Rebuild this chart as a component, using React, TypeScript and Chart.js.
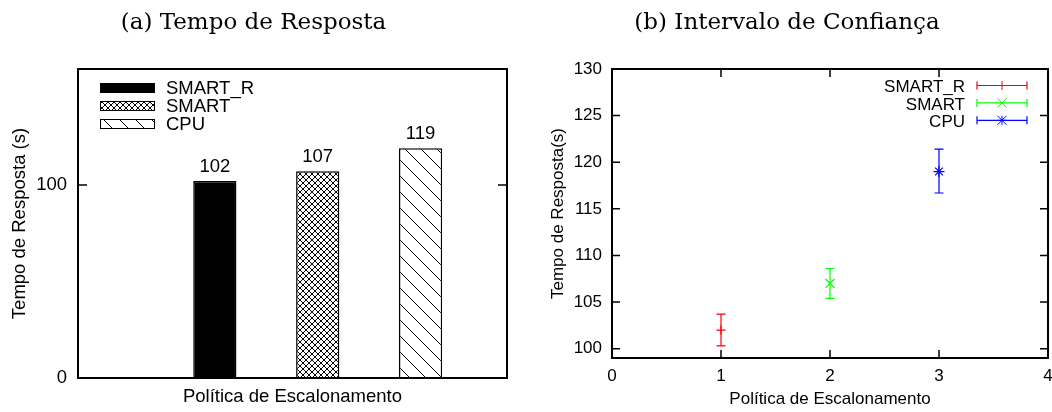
import React, { useEffect, useRef } from 'react';
import { Chart, registerables } from 'chart.js';

Chart.register(...registerables);

// ---------------- data ----------------
const seriesNames = ['SMART_R', 'SMART', 'CPU'];
const policyPositions = [1, 2, 3];
const responseTimes = [102, 107, 119];
const ciLower = [100.3, 105.4, 116.7];
const ciUpper = [103.7, 108.6, 121.4];
const barYTicks = [0, 100];
const ciXTicks = [0, 1, 2, 3, 4];
const ciYTicks = [100, 105, 110, 115, 120, 125, 130];
const ciColors = ['#ff0000', '#00ff00', '#0000ff'];
const ciMarkers = ['cross', 'crossRot', 'star'];
const barFills = ['solid', 'crosshatch', 'diagonal'];

const leftTitle = '(a) Tempo de Resposta';
const rightTitle = '(b) Intervalo de Confiança';
const xAxisTitle = 'Política de Escalonamento';
const leftYTitle = 'Tempo de Resposta (s)';
const rightYTitle = 'Tempo de Resposta(s)';

const SANS = "'Liberation Sans', Arial, Helvetica, sans-serif";
const SERIF = "'DejaVu Serif', serif";

function makeFill(ctx: CanvasRenderingContext2D, kind: string): any {
  if (kind === 'solid') return '#000000';
  const size = kind === 'crosshatch' ? 6 : 16;
  const c = document.createElement('canvas');
  c.width = size;
  c.height = size;
  const g = c.getContext('2d')!;
  g.fillStyle = '#ffffff';
  g.fillRect(0, 0, size, size);
  g.strokeStyle = '#000000';
  g.lineWidth = 1;
  g.beginPath();
  for (const k of [-size, 0, size]) {
    g.moveTo(k, 0);
    g.lineTo(k + size, size);
    if (kind === 'crosshatch') {
      g.moveTo(k + size, 0);
      g.lineTo(k, size);
    }
  }
  g.stroke();
  return ctx.createPattern(c, 'repeat');
}

function drawMarker(ctx: CanvasRenderingContext2D, style: string, x: number, y: number, r: number) {
  ctx.beginPath();
  if (style === 'cross' || style === 'star') {
    ctx.moveTo(x - r, y); ctx.lineTo(x + r, y);
    ctx.moveTo(x, y - r); ctx.lineTo(x, y + r);
  }
  if (style === 'crossRot' || style === 'star') {
    ctx.moveTo(x - r, y - r); ctx.lineTo(x + r, y + r);
    ctx.moveTo(x - r, y + r); ctx.lineTo(x + r, y - r);
  }
  ctx.stroke();
}

const frameTicksPlugin = {
  id: 'frameTicks',
  afterDatasetsDraw(chart: any, _args: any, opts: any) {
    const { ctx, chartArea: a, scales } = chart;
    const len = opts.len || 8;
    ctx.save();
    ctx.strokeStyle = '#000';
    ctx.lineWidth = 1.5;
    ctx.beginPath();
    scales.y.ticks.forEach((t: any) => {
      const py = scales.y.getPixelForValue(t.value);
      if (py <= a.top + 1 || py >= a.bottom - 1) return;
      ctx.moveTo(a.left, py); ctx.lineTo(a.left + len, py);
      ctx.moveTo(a.right, py); ctx.lineTo(a.right - len, py);
    });
    if (opts.xTicks) {
      scales.x.ticks.forEach((t: any) => {
        const px = scales.x.getPixelForValue(t.value);
        if (px <= a.left + 1 || px >= a.right - 1) return;
        ctx.moveTo(px, a.bottom); ctx.lineTo(px, a.bottom - len);
        ctx.moveTo(px, a.top); ctx.lineTo(px, a.top + len);
      });
    }
    ctx.stroke();
    ctx.lineWidth = 2;
    ctx.strokeRect(Math.round(a.left), Math.round(a.top), Math.round(a.right - a.left), Math.round(a.bottom - a.top));
    ctx.restore();
  },
};

const barLabelPlugin = {
  id: 'barLabels',
  afterDatasetsDraw(chart: any) {
    const { ctx } = chart;
    ctx.save();
    ctx.fillStyle = '#000';
    ctx.font = `18.5px ${SANS}`;
    ctx.textAlign = 'center';
    ctx.textBaseline = 'bottom';
    chart.data.datasets.forEach((ds: any, i: number) => {
      const el = chart.getDatasetMeta(i).data[0];
      if (!el) return;
      ctx.fillText(String(ds.data[0].y), el.x, el.y - 5);
    });
    ctx.restore();
  },
};

const patternLegendPlugin = {
  id: 'patternLegend',
  afterDraw(chart: any) {
    const { ctx, chartArea: a } = chart;
    ctx.save();
    chart.data.datasets.forEach((ds: any, i: number) => {
      const cy = a.top + 19 + i * 18;
      ctx.fillStyle = ds.backgroundColor;
      ctx.fillRect(a.left + 22, cy - 5, 55, 10);
      ctx.strokeStyle = '#000';
      ctx.lineWidth = 1;
      ctx.strokeRect(a.left + 22.5, cy - 4.5, 54, 9);
      ctx.fillStyle = '#000';
      ctx.font = `18.5px ${SANS}`;
      ctx.textAlign = 'left';
      ctx.textBaseline = 'middle';
      ctx.fillText(ds.label, a.left + 88, cy + 1);
    });
    ctx.restore();
  },
};

const errorBarPlugin = {
  id: 'errorBars',
  beforeDatasetsDraw(chart: any) {
    const { ctx, scales } = chart;
    ctx.save();
    ctx.lineWidth = 1.2;
    seriesNames.forEach((_n, i) => {
      const px = scales.x.getPixelForValue(policyPositions[i]);
      const yl = scales.y.getPixelForValue(ciLower[i]);
      const yh = scales.y.getPixelForValue(ciUpper[i]);
      ctx.strokeStyle = ciColors[i];
      ctx.beginPath();
      ctx.moveTo(px, yl); ctx.lineTo(px, yh);
      ctx.moveTo(px - 4.5, yl); ctx.lineTo(px + 4.5, yl);
      ctx.moveTo(px - 4.5, yh); ctx.lineTo(px + 4.5, yh);
      ctx.stroke();
    });
    ctx.restore();
  },
};

const errorLegendPlugin = {
  id: 'errorLegend',
  afterDraw(chart: any) {
    const { ctx, chartArea: a } = chart;
    ctx.save();
    chart.data.datasets.forEach((ds: any, i: number) => {
      const cy = a.top + 16.5 + i * 17.4;
      ctx.fillStyle = '#000';
      ctx.font = `17px ${SANS}`;
      ctx.textAlign = 'right';
      ctx.textBaseline = 'middle';
      ctx.fillText(ds.label, a.right - 83, cy + 2);
      const x0 = a.right - 71;
      const x1 = a.right - 21;
      ctx.strokeStyle = ciColors[i];
      ctx.lineWidth = 1.2;
      ctx.beginPath();
      ctx.moveTo(x0, cy); ctx.lineTo(x1, cy);
      ctx.moveTo(x0, cy - 4); ctx.lineTo(x0, cy + 4);
      ctx.moveTo(x1, cy - 4); ctx.lineTo(x1, cy + 4);
      ctx.stroke();
      ctx.lineWidth = 1;
      drawMarker(ctx, ciMarkers[i], (x0 + x1) / 2, cy, 4.5);
    });
    ctx.restore();
  },
};

export default function App() {
  const leftRef = useRef<HTMLCanvasElement>(null);
  const rightRef = useRef<HTMLCanvasElement>(null);

  useEffect(() => {
    Chart.defaults.font.family = SANS;
    Chart.defaults.color = '#000';
    const lc = leftRef.current!;
    const rc = rightRef.current!;
    const lctx = lc.getContext('2d')!;
    const fills = barFills.map((k) => makeFill(lctx, k));

    const titleOpts = (text: string) => ({
      display: true,
      text,
      color: '#000',
      font: { family: SERIF, size: 23, weight: 'normal' as any },
      padding: { top: 9.2, bottom: 32.2 },
    });

    const left = new Chart(lc, {
      type: 'bar',
      data: {
        datasets: seriesNames.map((name, i) => ({
          label: name,
          data: [{ x: policyPositions[i], y: responseTimes[i] }],
          backgroundColor: fills[i],
          borderColor: '#000',
          borderWidth: 1.5,
          grouped: false,
          barPercentage: 0.42,
          categoryPercentage: 1,
        })) as any,
      },
      options: {
        animation: false,
        responsive: false,
        events: [],
        layout: { padding: { left: 0, right: 19, top: 0, bottom: 0 } },
        scales: {
          x: {
            type: 'linear',
            offset: false,
            min: -0.33,
            max: 3.84,
            afterBuildTicks: (s: any) => { s.ticks = policyPositions.map((v) => ({ value: v })); },
            ticks: { display: false },
            grid: { display: false, drawTicks: false },
            border: { display: false },
            title: { display: true, text: xAxisTitle, color: '#000', font: { size: 18.5 }, padding: { top: 0, bottom: 4 } },
            afterFit: (s: any) => { s.height = 34; },
          },
          y: {
            min: 0,
            max: 160,
            afterBuildTicks: (s: any) => { s.ticks = barYTicks.map((v) => ({ value: v })); },
            ticks: { color: '#000', font: { size: 18.5 }, padding: 11 },
            grid: { display: false, drawTicks: false },
            border: { display: false },
            title: { display: true, text: leftYTitle, color: '#000', font: { size: 18.5 }, padding: { top: 9, bottom: 0 } },
            afterFit: (s: any) => { s.width = 78; },
          },
        } as any,
        plugins: {
          legend: { display: false },
          tooltip: { enabled: false },
          title: titleOpts(leftTitle),
          frameTicks: { len: 9 },
        } as any,
      },
      plugins: [frameTicksPlugin, barLabelPlugin, patternLegendPlugin],
    });

    const right = new Chart(rc, {
      type: 'scatter',
      data: {
        datasets: seriesNames.map((name, i) => ({
          label: name,
          data: [{ x: policyPositions[i], y: responseTimes[i] }],
          pointStyle: ciMarkers[i],
          pointRadius: ciMarkers[i] === 'crossRot' ? 6.3 : ciMarkers[i] === 'star' ? 5.5 : 4.5,
          borderColor: ciColors[i],
          backgroundColor: ciColors[i],
          borderWidth: 1.2,
        })) as any,
      },
      options: {
        animation: false,
        responsive: false,
        events: [],
        layout: { padding: { left: 0, right: 34, top: 0, bottom: 0 } },
        scales: {
          x: {
            type: 'linear',
            min: 0,
            max: 4,
            afterBuildTicks: (s: any) => { s.ticks = ciXTicks.map((v) => ({ value: v })); },
            ticks: { color: '#000', font: { size: 17 }, padding: 8.5 },
            grid: { display: false, drawTicks: false },
            border: { display: false },
            title: { display: true, text: xAxisTitle, color: '#000', font: { size: 17 }, padding: { top: 0, bottom: 2 } },
            afterFit: (s: any) => { s.height = 54; },
          },
          y: {
            min: 99,
            max: 130,
            afterBuildTicks: (s: any) => { s.ticks = ciYTicks.map((v) => ({ value: v })); },
            ticks: { color: '#000', font: { size: 17 }, padding: 10 },
            grid: { display: false, drawTicks: false },
            border: { display: false },
            title: { display: true, text: rightYTitle, color: '#000', font: { size: 17 }, padding: { top: 22, bottom: 0 } },
            afterFit: (s: any) => { s.width = 86; },
          },
        } as any,
        plugins: {
          legend: { display: false },
          tooltip: { enabled: false },
          title: titleOpts(rightTitle),
          frameTicks: { len: 8, xTicks: true },
        } as any,
      },
      plugins: [frameTicksPlugin, errorBarPlugin, errorLegendPlugin],
    });

    return () => {
      left.destroy();
      right.destroy();
    };
  }, []);

  return (
    <div style={{ position: 'absolute', left: 0, top: 0, width: 1052, height: 412, overflow: 'hidden', background: '#fff' }}>
      <canvas ref={leftRef} width={526} height={412} style={{ position: 'absolute', left: 0, top: 0, width: 526, height: 412 }} />
      <canvas ref={rightRef} width={556} height={412} style={{ position: 'absolute', left: 526, top: 0, width: 556, height: 412 }} />
    </div>
  );
}
